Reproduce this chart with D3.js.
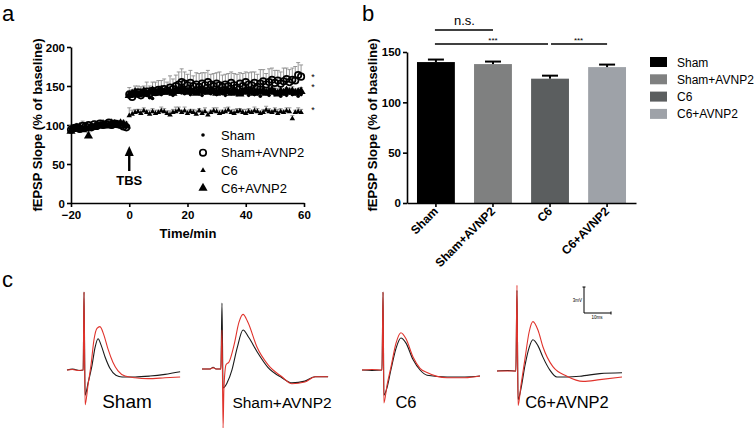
<!DOCTYPE html>
<html><head><meta charset="utf-8">
<script src="https://cdn.jsdelivr.net/npm/d3@7"></script>
<style>body{margin:0;background:#fff;} svg{display:block;font-family:"Liberation Sans",Arial,sans-serif;}</style>
</head><body><svg id="c" width="756" height="428"></svg>
<script>
// ---------- Panel a data ----------
const timeMin = [-20,-19,-18,-17,-16,-15,-14,-13,-12,-11,-10,-9,-8,-7,-6,-5,-4,-3,-2,-1,
 0,1,2,3,4,5,6,7,8,9,10,11,12,13,14,15,16,17,18,19,20,21,22,23,24,25,26,27,28,29,
 30,31,32,33,34,35,36,37,38,39,40,41,42,43,44,45,46,47,48,49,50,51,52,53,54,55,56,57,58,59];
const groups = ["Sham","Sham+AVNP2","C6","C6+AVNP2"];
const shamLTP = [95,97,94,98,96,99,97,100,98,101,99,100,102,99,101,100,103,101,99,100,
 136,138,140,137,139,141,138,135,134,140,142,139,141,143,140,138,142,144,141,140,143,139,141,142,140,138,141,143,140,142,
 139,141,140,138,142,140,141,139,143,140,142,138,141,139,140,137,141,140,138,142,139,141,137,140,138,141,139,140,137,139];
const shamErr = [3,2,3,2,3,2,3,2,3,2,3,2,3,2,3,2,3,2,3,2,
 5,6,4,5,6,5,4,6,5,5,6,4,5,6,5,4,5,6,5,5,6,4,5,5,6,5,4,6,5,5,
 6,5,4,5,6,5,5,4,6,5,5,6,4,5,5,6,5,4,6,5,5,6,4,5,5,6,5,4,6,5];
const shamAvnpLTP = [94,96,97,95,99,98,100,97,101,99,102,100,101,103,100,102,101,100,98,97,
 139,136,140,142,138,141,143,140,144,142,145,143,146,144,148,146,150,152,155,153,151,154,150,152,149,153,151,155,152,150,
 153,151,149,152,150,154,151,148,153,150,155,152,151,154,149,153,156,152,155,158,154,157,153,156,159,155,158,157,164,162];
const shamAvnpErr = [4,3,5,3,6,4,3,5,4,3,4,5,3,4,5,3,4,4,3,4,
 9,7,10,8,11,9,12,10,11,13,12,14,13,11,15,13,14,16,17,15,14,16,13,15,17,14,16,15,13,16,
 14,17,15,13,16,14,15,17,14,16,13,15,17,14,16,18,15,14,17,15,16,13,15,17,14,16,15,18,16,15];
const c6LTP = [96,93,98,95,97,99,96,100,98,99,101,100,99,102,100,101,99,100,102,101,
 112,114,116,117,115,118,116,114,117,115,116,118,117,115,113,116,117,119,116,118,115,117,116,114,118,115,117,113,116,118,
 117,115,116,117,119,116,115,117,118,116,115,117,116,118,117,115,116,119,117,116,118,115,117,116,118,117,108,116,117,116];
const c6Err = [3,4,3,5,3,4,3,2,4,3,3,2,3,4,3,2,3,3,4,3,
 10,5,4,3,5,4,3,5,4,4,3,5,4,3,5,4,6,4,3,5,4,3,4,5,3,4,5,4,3,4,
 5,4,3,5,4,3,5,4,3,4,5,4,3,5,4,3,4,5,4,3,4,5,4,3,4,5,4,3,5,4];
const c6AvnpLTP = [92,95,96,97,94,95,86,98,97,100,99,101,100,99,102,101,100,102,101,99,
 138,140,142,139,141,143,140,142,144,141,143,145,142,144,143,141,145,143,146,144,142,145,143,141,144,146,143,142,145,143,
 141,144,142,145,143,141,144,142,140,143,145,142,144,141,143,142,144,141,143,145,142,140,143,141,144,142,143,141,142,143];
const c6AvnpErr = [3,2,3,3,8,3,4,3,2,3,3,2,3,3,2,3,2,3,3,2,
 6,5,4,6,5,4,5,6,4,5,6,5,4,5,6,5,4,5,6,4,5,5,4,6,5,4,5,6,5,4,
 5,6,5,4,5,5,6,4,5,6,5,4,5,6,5,4,5,6,4,5,5,4,6,5,4,5,6,5,4,5];
const aYTicks = [0,50,100,150,200];
const aXTicks = [-20,0,20,40,60];

// ---------- Panel b data ----------
const barMeans = [140,138,123.5,135];
const barSEM = [2.5,2.5,3,2.5];
const barColors = ["#000000","#7f8080","#5b5e5f","#9ea2a8"];
const bYTicks = [0,50,100,150];

// ---------- Panel c data (t in ms, v in mV) ----------
const shamBlack = [[0,0],[2,0.1],[3,0.05],[5,-0.05],[6.0,0],[6.3,9.0],[6.7,-2.9],[7.8,-1.5],[9.3,0.6],[10.4,2.6],[11.5,3.6],[12.6,2.9],[14.1,1.5],[15.9,0.2],[18.1,-0.6],[20.4,-0.8],[25.2,-0.8],[30.7,-0.7],[36.3,-0.5],[41.9,-0.2]];
const shamRed = [[0,0],[2,0.05],[4,-0.05],[6.0,0],[6.3,9.0],[6.7,-4.0],[7.8,-1.7],[8.9,0.6],[10.0,3.5],[11.1,4.8],[12.2,5.0],[13.7,4.0],[15.2,2.4],[17.0,0.9],[18.9,-0.1],[21.5,-0.7],[25.2,-0.9],[30.0,-1.0],[36.3,-0.9],[41.9,-0.8]];
const shamAvnpBlack = [[0,0],[3,0],[4.1,0.2],[5.2,0],[7.0,0],[7.4,7.6],[7.8,-2.2],[9.3,-1.6],[11.1,-0.1],[13.0,2.4],[15.2,4.5],[17.4,3.6],[20.4,2.0],[24.4,0.2],[29.6,-1.0],[33.3,-1.6],[38.1,-1.4],[41.9,-0.9],[46.7,-0.9]];
const shamAvnpRed = [[0,0],[3,0],[4.1,0.15],[5.2,0],[7.0,0],[7.4,4.5],[7.8,-6.8],[8.1,-2.4],[8.9,0.5],[10.0,0.8],[11.9,2.8],[13.7,5.4],[15.2,6.3],[17.0,5.4],[20.4,2.5],[24.4,0.5],[29.6,-0.9],[33.3,-1.7],[38.1,-1.5],[41.9,-0.9],[46.7,-0.9]];
const c6Black = [[0,0],[3.7,-0.05],[7.4,0],[7.8,9.0],[8.1,-2.9],[9.3,-2.0],[10.7,0],[12.6,2.5],[14.4,3.7],[16.3,3.1],[18.9,1.2],[21.5,0],[24.1,-0.6],[31.5,-0.8],[38.1,-0.8],[43.7,-0.7]];
const c6Red = [[0,0],[3.7,0.05],[7.4,0],[7.8,9.0],[8.1,-3.8],[9.3,-1.7],[10.7,0.3],[12.6,3.1],[14.4,4.3],[16.3,3.6],[18.9,1.5],[21.5,0.2],[24.1,-0.3],[31.5,-0.9],[38.1,-0.9],[43.7,-0.7]];
const c6AvnpBlack = [[0,0],[4,0.05],[7.0,0],[7.4,9.3],[7.8,-3.3],[8.9,-2.0],[10.4,0.7],[11.9,2.7],[13.3,3.6],[15.2,2.9],[17.0,1.6],[19.6,0.1],[22.2,-0.7],[30.7,-0.6],[38.1,-0.3],[46.3,-0.2]];
const c6AvnpRed = [[0,0],[4,0],[7.0,0],[7.4,9.9],[7.8,-4.0],[8.9,-1.6],[10.4,1.5],[11.9,4.5],[13.3,5.7],[15.2,4.7],[17.0,2.8],[20.7,0.5],[25.9,-0.6],[31.9,-1.2],[38.1,-1.0],[46.3,-0.7]];
const traceLabels = ["Sham","Sham+AVNP2","C6","C6+AVNP2"];

const svg = d3.select("#c");

// ===== Panel letters =====
svg.append("text").attr("x",2).attr("y",21).attr("font-size",22).text("a");
svg.append("text").attr("x",362).attr("y",21).attr("font-size",22).text("b");
svg.append("text").attr("x",2).attr("y",287).attr("font-size",22).text("c");

// ===== Panel a =====
const xA = d3.scaleLinear().domain([-20,60]).range([71,304]);
const yA = d3.scaleLinear().domain([0,200]).range([203,47]);
const gA = svg.append("g");
const axA_y = gA.append("g").attr("transform","translate(71,0)")
  .call(d3.axisLeft(yA).tickValues(aYTicks).tickSize(4).tickSizeOuter(0).tickPadding(2));
const axA_x = gA.append("g").attr("transform","translate(0,203)")
  .call(d3.axisBottom(xA).tickValues(aXTicks).tickSize(4).tickSizeOuter(0).tickPadding(4));
[axA_y,axA_x].forEach(a=>{a.select(".domain").attr("stroke-width",1.6);a.selectAll("line").attr("stroke-width",1.6);
  a.selectAll("text").attr("font-size",11.5).attr("font-weight","bold").attr("fill","#000").attr("font-family","Liberation Sans, Arial");});
axA_y.selectAll("text").attr("dy","0.36em");
gA.append("text").attr("x",188).attr("y",238).attr("text-anchor","middle").attr("font-size",13).attr("font-weight","bold").text("Time/min");
gA.append("text").attr("transform","translate(42,125) rotate(-90)").attr("text-anchor","middle").attr("font-size",13).attr("font-weight","bold").text("fEPSP Slope (% of baseline)");

const seriesA = [
  {name:"Sham", v:shamLTP, e:shamErr, type:"dot"},
  {name:"Sham+AVNP2", v:shamAvnpLTP, e:shamAvnpErr, type:"open"},
  {name:"C6", v:c6LTP, e:c6Err, type:"tri"},
  {name:"C6+AVNP2", v:c6AvnpLTP, e:c6AvnpErr, type:"bigtri"}
];
// error bars (upward only)
[1,0,3,2].forEach(i=>{
  const s = seriesA[i];
  const g = gA.append("g").attr("stroke","#8c8c8c").attr("stroke-width",0.9);
  timeMin.forEach((t,k)=>{
    const x = xA(t), y0 = yA(s.v[k]), y1 = yA(s.v[k]+s.e[k]);
    g.append("line").attr("x1",x).attr("x2",x).attr("y1",y0).attr("y2",y1);
    g.append("line").attr("x1",x-2).attr("x2",x+2).attr("y1",y1).attr("y2",y1);
  });
});
function drawMarker(g,type,x,y){
  if(type==="dot") g.append("circle").attr("cx",x).attr("cy",y).attr("r",1.8).attr("fill","#000");
  else if(type==="open") g.append("circle").attr("cx",x).attr("cy",y).attr("r",3.2).attr("fill","none").attr("stroke","#000").attr("stroke-width",1.7);
  else if(type==="tri") g.append("path").attr("transform",`translate(${x},${y})`).attr("d",d3.symbol(d3.symbolTriangle,13)()).attr("fill","#000");
  else g.append("path").attr("transform",`translate(${x},${y})`).attr("d",d3.symbol(d3.symbolTriangle,36)()).attr("fill","#000");
}
[2,3,0,1].forEach(i=>{
  const s = seriesA[i]; const g = gA.append("g");
  timeMin.forEach((t,k)=>drawMarker(g,s.type,xA(t),yA(s.v[k])));
});
// legend a
const legA = gA.append("g");
seriesA.forEach((s,i)=>{
  const y = 135 + i*17.7;
  drawMarker(legA,s.type,203,y);
  legA.append("text").attr("x",221).attr("y",y+4.5).attr("font-size",13).text(s.name);
});
// TBS arrow
gA.append("line").attr("x1",xA(0)).attr("x2",xA(0)).attr("y1",171).attr("y2",154).attr("stroke","#000").attr("stroke-width",2.4);
gA.append("path").attr("d",`M${xA(0)-4.5},156 L${xA(0)},146 L${xA(0)+4.5},156 Z`).attr("fill","#000");
gA.append("text").attr("x",xA(0)).attr("y",185).attr("text-anchor","middle").attr("font-size",13).attr("font-weight","bold").text("TBS");
// significance stars
[80,90,113].forEach(y=>gA.append("text").attr("x",313).attr("y",y).attr("text-anchor","middle").attr("font-size",9).text("*"));

// ===== Panel b =====
const xB = d3.scaleBand().domain(groups).range([407,636]).paddingInner(0.336).paddingOuter(0.175);
const yB = d3.scaleLinear().domain([0,150]).range([203,52]);
const gB = svg.append("g");
groups.forEach((gname,i)=>{
  const x = xB(gname), w = xB.bandwidth();
  gB.append("rect").attr("x",x).attr("y",yB(barMeans[i])).attr("width",w).attr("height",yB(0)-yB(barMeans[i])).attr("fill",barColors[i]);
  const cx = x+w/2, yt = yB(barMeans[i]+barSEM[i]);
  gB.append("line").attr("x1",cx).attr("x2",cx).attr("y1",yB(barMeans[i])).attr("y2",yt).attr("stroke","#000").attr("stroke-width",2);
  gB.append("line").attr("x1",cx-8).attr("x2",cx+8).attr("y1",yt).attr("y2",yt).attr("stroke","#000").attr("stroke-width",2);
});
const axB_y = gB.append("g").attr("transform","translate(407,0)")
  .call(d3.axisLeft(yB).tickValues(bYTicks).tickSize(4).tickSizeOuter(0).tickPadding(2));
const axB_x = gB.append("g").attr("transform","translate(0,203)")
  .call(d3.axisBottom(xB).tickSize(4).tickSizeOuter(0).tickFormat(()=>""));
[axB_y,axB_x].forEach(a=>{a.select(".domain").attr("stroke-width",1.6);a.selectAll("line").attr("stroke-width",1.6);
  a.selectAll("text").attr("font-size",11.5).attr("font-weight","bold").attr("fill","#000").attr("font-family","Liberation Sans, Arial");});
groups.forEach(gname=>{
  const cx = xB(gname)+xB.bandwidth()/2;
  gB.append("text").attr("transform",`translate(${cx+3},${212}) rotate(-45)`).attr("text-anchor","end").attr("font-size",12).attr("font-weight","bold").text(gname);
});
gB.append("text").attr("transform","translate(377,125) rotate(-90)").attr("text-anchor","middle").attr("font-size",13).attr("font-weight","bold").text("fEPSP Slope (% of baseline)");
const cen = g => xB(g)+xB.bandwidth()/2;
gB.append("line").attr("x1",cen("Sham")-1).attr("x2",cen("Sham+AVNP2")).attr("y1",30).attr("y2",30).attr("stroke","#000").attr("stroke-width",1.5);
gB.append("text").attr("x",(cen("Sham")+cen("Sham+AVNP2"))/2).attr("y",25).attr("text-anchor","middle").attr("font-size",13).text("n.s.");
gB.append("line").attr("x1",cen("Sham")-1).attr("x2",cen("C6")-2).attr("y1",44).attr("y2",44).attr("stroke","#000").attr("stroke-width",1.5);
gB.append("line").attr("x1",cen("C6")+1).attr("x2",cen("C6+AVNP2")).attr("y1",44).attr("y2",44).attr("stroke","#000").attr("stroke-width",1.5);
gB.append("text").attr("x",(cen("Sham")+cen("C6"))/2).attr("y",43).attr("text-anchor","middle").attr("font-size",8).text("***");
gB.append("text").attr("x",(cen("C6")+cen("C6+AVNP2"))/2).attr("y",43).attr("text-anchor","middle").attr("font-size",8).text("***");
// legend b
groups.forEach((gname,i)=>{
  const y = 62 + i*17.3;
  gB.append("rect").attr("x",650).attr("y",y-5).attr("width",17).attr("height",10).attr("fill",barColors[i]);
  gB.append("text").attr("x",677).attr("y",y+4.5).attr("font-size",12).text(gname);
});

// ===== Panel c =====
const tx = d3.scaleLinear().domain([0,10]).range([0,27]);
const ty = d3.scaleLinear().domain([0,3]).range([0,-26]);
const traceLine = d3.line().x(d=>tx(d[0])).y(d=>ty(d[1])).curve(d3.curveMonotoneX);
const traces = [
  {o:[67,370], black:shamBlack, red:shamRed, lx:127, fs:19},
  {o:[202,369], black:shamAvnpBlack, red:shamAvnpRed, lx:282, fs:15.5},
  {o:[362,370], black:c6Black, red:c6Red, lx:406, fs:16.5},
  {o:[497,371], black:c6AvnpBlack, red:c6AvnpRed, lx:567, fs:16.5}
];
traces.forEach((tr,i)=>{
  const g = svg.append("g").attr("transform",`translate(${tr.o[0]},${tr.o[1]})`);
  g.append("path").attr("d",traceLine(tr.black)).attr("fill","none").attr("stroke","#1a1a1a").attr("stroke-width",1.1);
  g.append("path").attr("d",traceLine(tr.red)).attr("fill","none").attr("stroke","#e0332c").attr("stroke-width",1.1);
  svg.append("text").attr("x",tr.lx).attr("y",408).attr("text-anchor","middle").attr("font-size",tr.fs).text(traceLabels[i]);
});
// scale bar
const sb = svg.append("g").attr("transform","translate(584,313)").attr("stroke","#000").attr("stroke-width",1);
sb.append("line").attr("x1",0).attr("x2",0).attr("y1",0).attr("y2",ty(3));
sb.append("line").attr("x1",0).attr("x2",tx(10)).attr("y1",0).attr("y2",0);
sb.append("line").attr("x1",-1.5).attr("x2",1.5).attr("y1",ty(3)).attr("y2",ty(3));
sb.append("line").attr("x1",tx(10)).attr("x2",tx(10)).attr("y1",-1.5).attr("y2",1.5);
svg.append("text").attr("x",582).attr("y",302).attr("text-anchor","end").attr("font-size",4.5).text("3mV");
svg.append("text").attr("x",597).attr("y",319).attr("text-anchor","middle").attr("font-size",4.5).text("10ms");
</script></body></html>
